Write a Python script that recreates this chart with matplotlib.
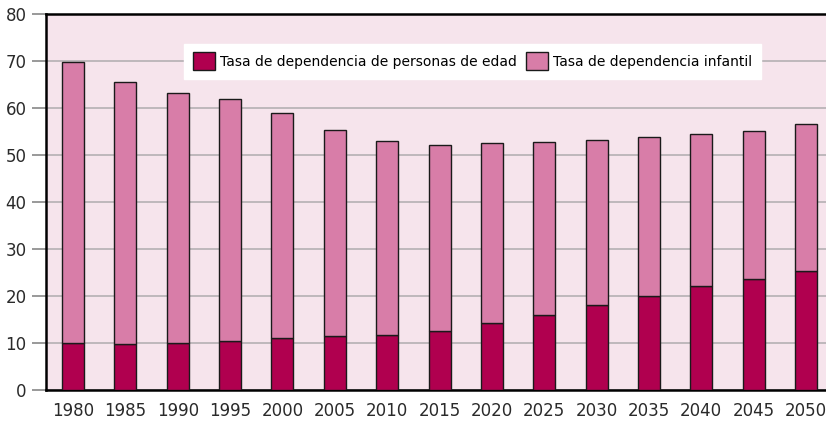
import matplotlib.pyplot as plt
import numpy as np

years = [1980, 1985, 1990, 1995, 2000, 2005, 2010, 2015, 2020, 2025, 2030, 2035, 2040, 2045, 2050]
total = [69.8, 65.5, 63.2, 61.9, 58.9, 55.3, 53.0, 52.1, 52.6, 52.8, 53.2, 53.8, 54.5, 55.1, 56.6]
old_age = [10.0, 9.7, 10.0, 10.5, 11.0, 11.4, 11.8, 12.6, 14.3, 16.0, 18.1, 20.1, 22.1, 23.6, 25.4]
child = [t - o for t, o in zip(total, old_age)]

labels = ["Tasa de dependencia de personas de edad", "Tasa de dependencia infantil"]
c_old = "#B0004F"
c_child = "#D87DA8"

fig = plt.figure(figsize=(8.26, 4.25), dpi=100)
ax = fig.add_axes([46 / 826, 35 / 425, 1 - 46 / 826, 376 / 425])
ax.set_facecolor("#F6E4EC")

ax.bar(years, old_age, width=2.1, color=c_old, edgecolor="#1a1a1a", linewidth=1, label=labels[0], zorder=3)
ax.bar(years, child, bottom=old_age, width=2.1, color=c_child, edgecolor="#1a1a1a", linewidth=1, label=labels[1], zorder=3)

ax.set_xlim(1977.42, 2051.91)
ax.set_ylim(0, 80)
ax.set_yticks(range(0, 81, 10))
ax.set_xticks(years)
ax.yaxis.grid(True, color="#B5B0B3", linewidth=1.2, zorder=0)
ax.set_axisbelow(True)

for s in ["left", "top", "bottom"]:
    ax.spines[s].set_color("black")
    ax.spines[s].set_linewidth(1.8)
ax.spines["right"].set_visible(False)

ax.tick_params(axis="y", length=10, width=1.2, color="#888888", labelsize=12, labelcolor="#2a2a2a", pad=4)
ax.tick_params(axis="x", length=0, labelsize=12, labelcolor="#2a2a2a", pad=9)

leg = ax.legend(loc="upper center", bbox_to_anchor=(0.547, 0.92), ncol=2, fontsize=10,
                frameon=True, fancybox=False, framealpha=1, edgecolor="white",
                handlelength=1.6, handleheight=1.6, handletextpad=0.4, columnspacing=0.6,
                borderpad=0.6, borderaxespad=0)
leg.get_frame().set_facecolor("white")

plt.savefig("out.png", dpi=100)
